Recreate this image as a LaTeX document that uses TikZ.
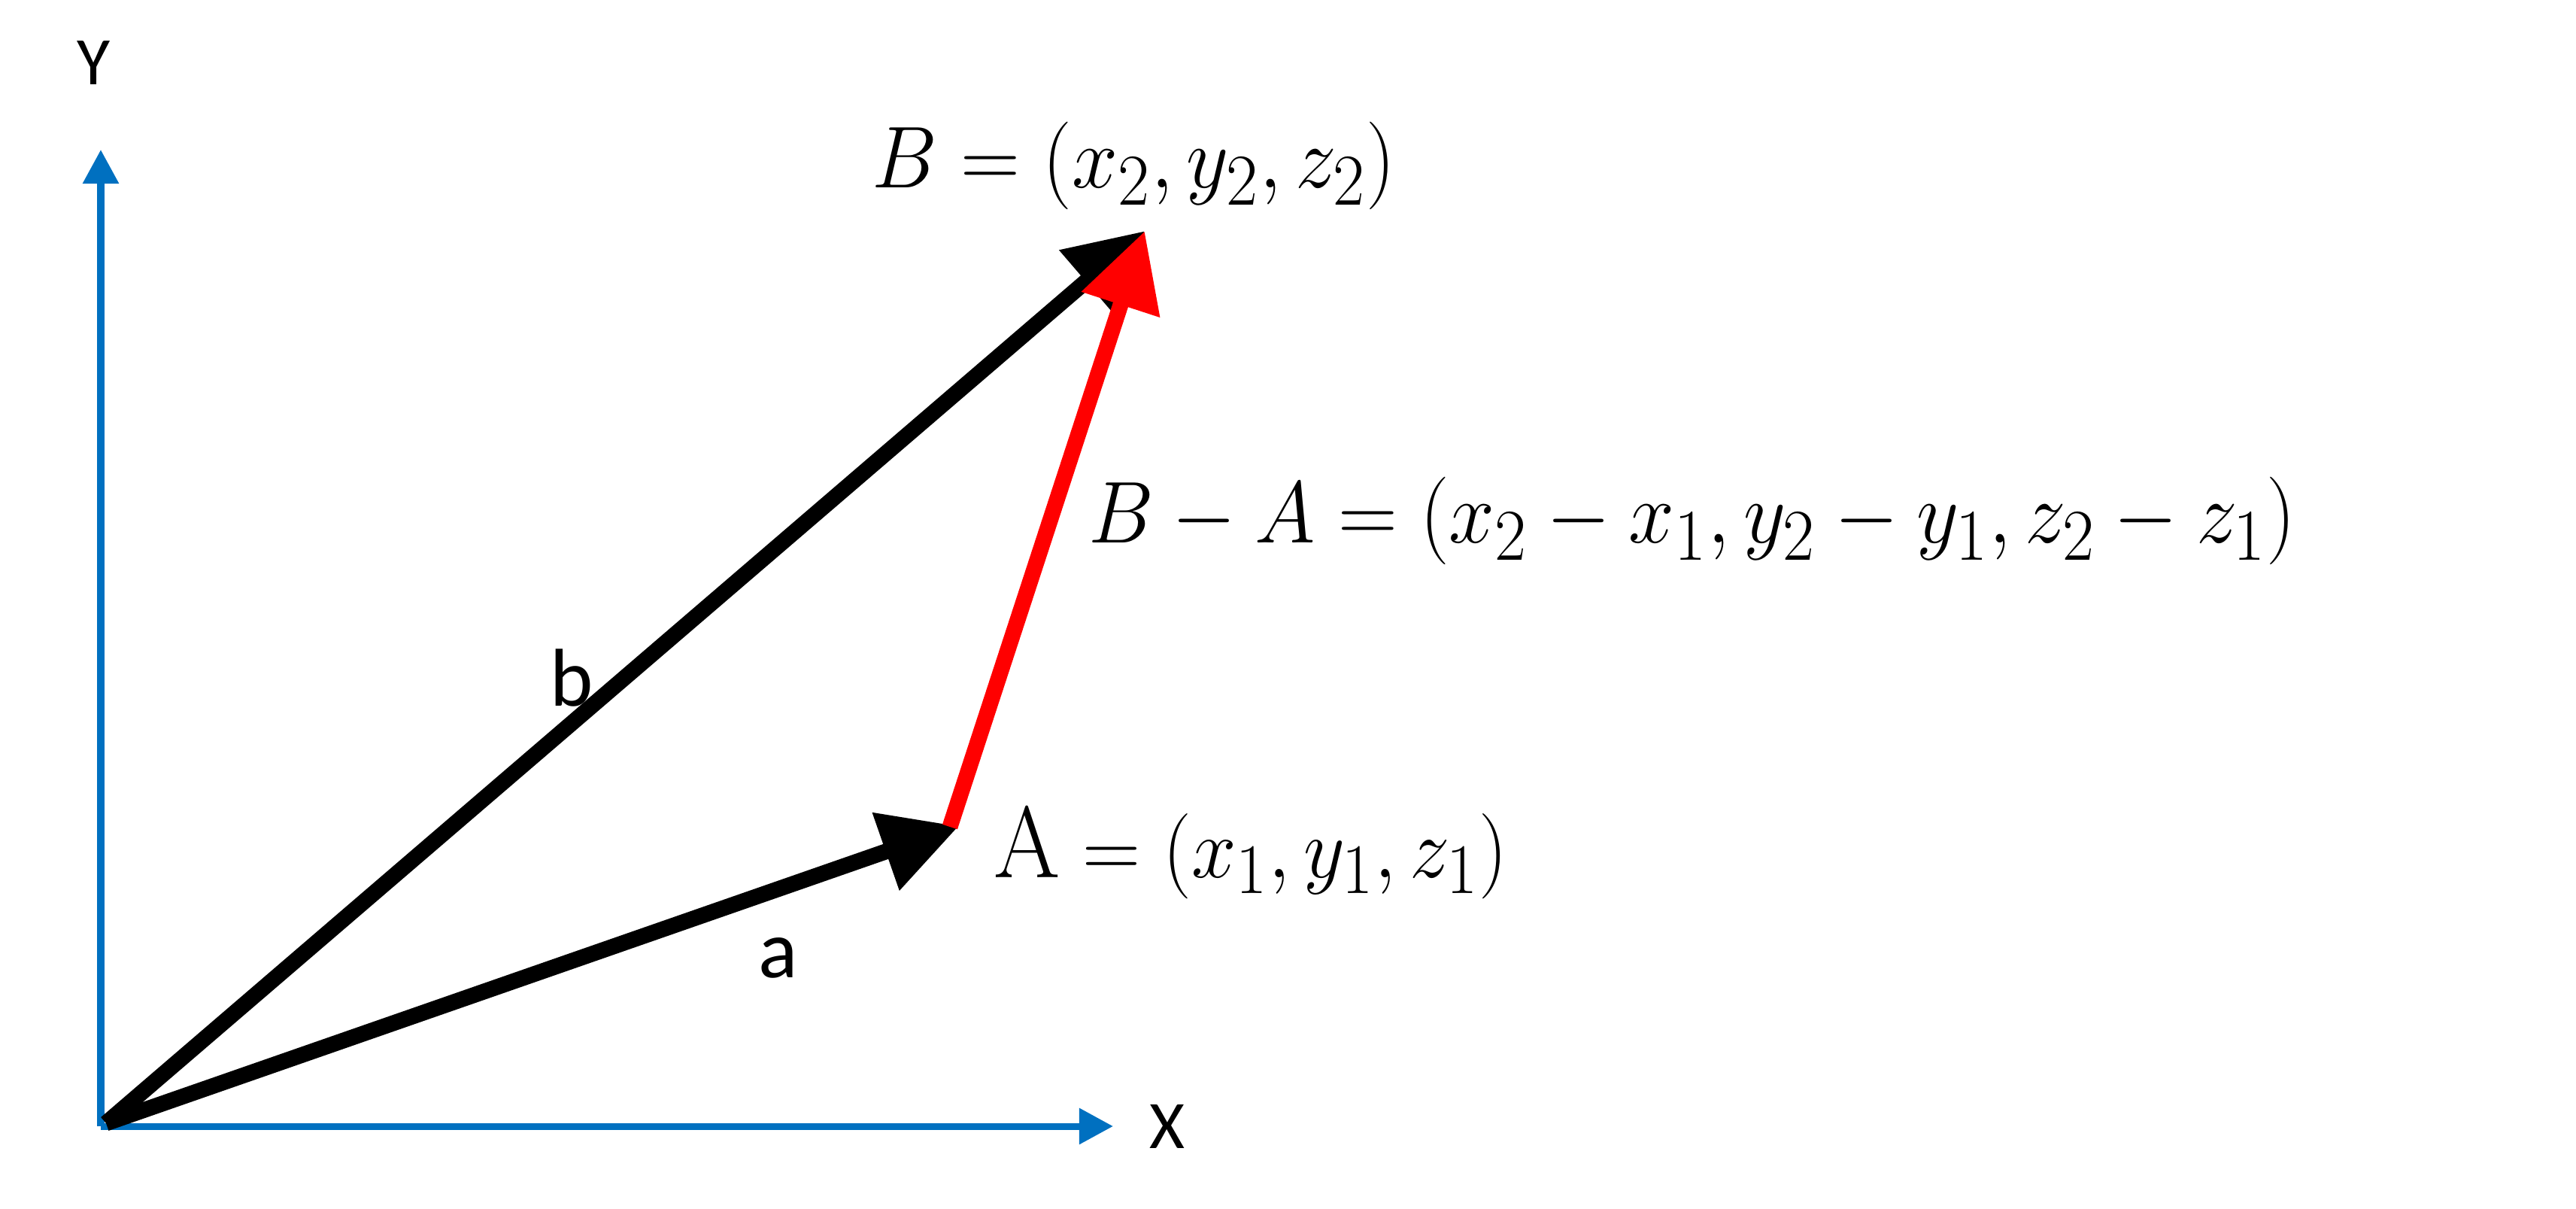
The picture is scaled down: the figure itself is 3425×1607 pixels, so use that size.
\documentclass[tikz,border=0pt]{standalone}
\usepackage{fontspec}
\usepackage{graphicx}
\newfontfamily\labfont{Carlito}
\usetikzlibrary{arrows.meta}
\definecolor{axisblue}{HTML}{0070C0}
\definecolor{vecred}{HTML}{FF0000}
\tikzset{
  axisline/.style={draw=axisblue, line width=0.09cm, line cap=square,
    -{Triangle[length=0.45cm,width=0.46cm]}},
  vecline/.style={draw=black, line width=0.21cm,
    -{Triangle[length=1.03cm,width=1.04cm]}},
  diffline/.style={vecline, draw=vecred, fill=vecred},
  axislab/.style={inner sep=0pt, anchor=base, font=\labfont\fontsize{25.7}{30}\selectfont},
  veclab/.style={inner sep=0pt, anchor=base, font=\labfont\fontsize{31}{36}\selectfont},
  mathlab/.style={inner sep=0pt, anchor=base west, font=\fontsize{29.6}{36}\selectfont},
}
\begin{document}
\begin{tikzpicture}[x=0.01cm, y=-0.01cm]
\useasboundingbox (0,0) rectangle (3425,1607);
% points
\coordinate (O) at (134,1497);
\coordinate (Oy) at (134,199);
\coordinate (Ox) at (1480,1497);
\coordinate (S) at (141,1493);
\coordinate (A) at (1275,1098);
\coordinate (Ar) at (1263,1099);
\coordinate (B) at (1522,307);
% axes
\draw[axisline] (O) -- (Oy);
\draw[axisline] (O) -- (Ox);
% vectors
\draw[vecline] (S) -- (A);
\draw[vecline] (S) -- (B);
\draw[diffline] (Ar) -- (B);
% labels
\node[axislab] (ylab) at (124.6,113) {Y};
\node[axislab] (xlab) at (1552,1526) {X};
\node[veclab] (blab) at (760,938) {b};
\node[veclab] (alab) at (1035,1299) {a};
\node[mathlab] (Blab) at (1159,250) {\resizebox{6.95cm}{\totalheight}{$B=(x_2,y_2,z_2)$}};
\node[mathlab] (BAlab) at (1447,722) {\resizebox{16.04cm}{\totalheight}{$B-A=(x_2-x_1,y_2-y_1,z_2-z_1)$}};
\node[mathlab] (Alab) at (1321,1166) {\resizebox{6.82cm}{\totalheight}{$\mathrm{A}=(x_1,y_1,z_1)$}};
\end{tikzpicture}
\end{document}
